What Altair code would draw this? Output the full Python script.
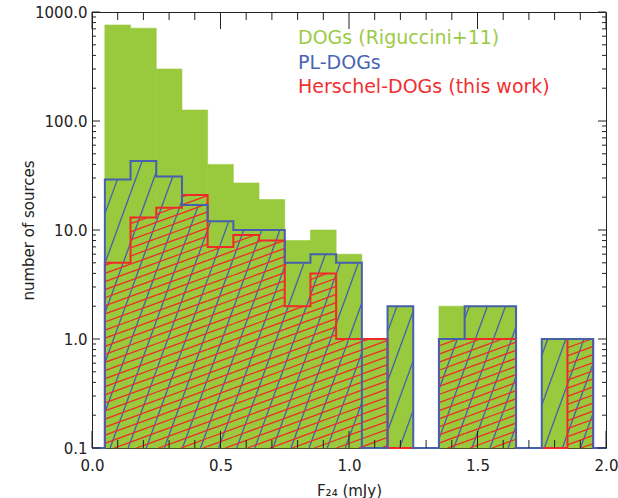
import math
import altair as alt
import pandas as pd
import numpy as np

# ---------------- data ----------------
bin_centers = [0.1, 0.2, 0.3, 0.4, 0.5, 0.6, 0.7, 0.8, 0.9, 1.0,
               1.1, 1.2, 1.3, 1.4, 1.5, 1.6, 1.7, 1.8, 1.9]
bin_width = 0.1
dogs_counts = [760, 710, 300, 126, 40, 27, 19, 8, 10, 6,
               1, 2, 0, 2, 2, 2, 0, 1, 1]
pl_counts = [29, 43, 31, 17, 12, 10, 10, 5, 6, 5,
             0, 2, 0, 1, 2, 2, 0, 1, 1]
her_counts = [5, 13, 16, 21, 7, 9, 8, 2, 4, 1,
              1, 0, 0, 1, 1, 1, 0, 0, 1]

legend_labels = ["DOGs (Riguccini+11)", "PL-DOGs", "Herschel-DOGs (this work)"]
legend_colors = ["#9bcb45", "#4a64b4", "#f03030"]

x_major = [0.0, 0.5, 1.0, 1.5, 2.0]
x_minor = [0.1, 0.2, 0.3, 0.4, 0.6, 0.7, 0.8, 0.9, 1.1, 1.2, 1.3, 1.4,
           1.6, 1.7, 1.8, 1.9]
y_major = [0.1, 1.0, 10.0, 100.0, 1000.0]
y_minor = [m * d for d in (0.1, 1.0, 10.0, 100.0) for m in range(2, 10)]

# ---------------- styling ----------------
W, H = 514, 436
XMIN, XMAX = 0.0, 2.0
YMIN, YMAX = 0.1, 1000.0
GREEN = "#99c93c"
BLUE = "#4660ae"
RED = "#f02a2a"
FONT = "DejaVu Sans"
TXT = "#222222"

px_per_x = W / (XMAX - XMIN)
px_per_dec = H / (math.log10(YMAX) - math.log10(YMIN))

xs = alt.Scale(domain=[XMIN, XMAX], nice=False, zero=False)
ys = alt.Scale(type="log", domain=[YMIN, YMAX], nice=False)
XAX = alt.Axis(values=x_major, format=".1f", grid=False, ticks=False,
               domain=False, labelPadding=10, labelFlush=False,
               labelOverlap=False, titlePadding=10)
YAX = alt.Axis(values=y_major, format=".1f", grid=False, ticks=False,
               domain=False, labelPadding=5, labelFlush=False,
               labelOverlap=False, titlePadding=-2)
XT = "F₂₄ (mJy)"
YT = "number of sources"


def X(field):
    return alt.X(field, scale=xs, axis=XAX, title=XT)


def Y(field):
    return alt.Y(field, scale=ys, axis=YAX, title=YT)


lo = [c - bin_width / 2 for c in bin_centers]
hi = [c + bin_width / 2 for c in bin_centers]


def hatch(counts, angle_deg, spacing):
    """Line-fill segments inside each bar, straight in screen space."""
    a = math.radians(angle_deg)
    ux, uy = math.cos(a), math.sin(a)
    nx, ny = -math.sin(a), math.cos(a)
    rows = []
    for l, h, c in zip(lo, hi, counts):
        if c <= 0:
            continue
        X0, X1 = (l - XMIN) * px_per_x, (h - XMIN) * px_per_x
        Y0, Y1 = 0.0, (math.log10(c) - math.log10(YMIN)) * px_per_dec
        proj = [nx * xx + ny * yy for xx in (X0, X1) for yy in (Y0, Y1)]
        for k in range(math.ceil(min(proj) / spacing), math.floor(max(proj) / spacing) + 1):
            p = k * spacing
            px0, py0 = p * nx, p * ny
            t1, t2 = (X0 - px0) / ux, (X1 - px0) / ux
            t3, t4 = (Y0 - py0) / uy, (Y1 - py0) / uy
            tlo = max(min(t1, t2), min(t3, t4))
            thi = min(max(t1, t2), max(t3, t4))
            if thi - tlo < 0.5:
                continue
            xa, ya = px0 + tlo * ux, py0 + tlo * uy
            xb, yb = px0 + thi * ux, py0 + thi * uy
            rows.append({
                "x": XMIN + xa / px_per_x,
                "x2": XMIN + xb / px_per_x,
                "y": 10 ** (math.log10(YMIN) + ya / px_per_dec),
                "y2": 10 ** (math.log10(YMIN) + yb / px_per_dec),
            })
    return pd.DataFrame(rows)


def outline(counts):
    pts = [(XMIN, YMIN), (lo[0], YMIN)]
    for l, h, c in zip(lo, hi, counts):
        v = c if c > 0 else YMIN
        pts.append((l, v))
        pts.append((h, v))
    pts.append((hi[-1], YMIN))
    pts.append((XMAX, YMIN))
    return pd.DataFrame({"x": [p[0] for p in pts], "y": [p[1] for p in pts],
                         "o": list(range(len(pts)))})


# ---------------- green filled bars ----------------
green_df = pd.DataFrame({"lo": lo, "hi": hi, "n": dogs_counts})
green_df = green_df[green_df["n"] > 0]
green = alt.Chart(green_df).mark_rect(color=GREEN, stroke=GREEN, strokeWidth=0.6).encode(
    x=X("lo:Q"), x2="hi:Q", y=Y("n:Q"), y2=alt.datum(YMIN),
)

# ---------------- hatching ----------------
blue_h = alt.Chart(hatch(pl_counts, 70, 17.0)).mark_rule(
    color=BLUE, strokeWidth=1.3).encode(x=X("x:Q"), x2="x2:Q", y=Y("y:Q"), y2="y2:Q")
red_h = alt.Chart(hatch(her_counts, 20, 7.6)).mark_rule(
    color=RED, strokeWidth=1.3).encode(x=X("x:Q"), x2="x2:Q", y=Y("y:Q"), y2="y2:Q")


# ---------------- outlines ----------------
def outline_layer(counts, color):
    return alt.Chart(outline(counts)).mark_line(
        color=color, strokeWidth=2, clip=False, strokeJoin="miter").encode(
        x=X("x:Q"), y=Y("y:Q"), order="o:Q")


red_o = outline_layer(her_counts, RED)
blue_o = outline_layer(pl_counts, BLUE)


# ---------------- inward ticks ----------------
def xticks(vals, length):
    d = pd.DataFrame({"v": vals})
    bot = alt.Chart(d).mark_rule(color=TXT, strokeWidth=1).encode(
        x=X("v:Q"), y=alt.value(H), y2=alt.value(H - length))
    top = alt.Chart(d).mark_rule(color=TXT, strokeWidth=1).encode(
        x=X("v:Q"), y=alt.value(0), y2=alt.value(length))
    return [bot, top]


def yticks(vals, length):
    d = pd.DataFrame({"v": vals})
    left = alt.Chart(d).mark_rule(color=TXT, strokeWidth=1).encode(
        y=Y("v:Q"), x=alt.value(0), x2=alt.value(length))
    right = alt.Chart(d).mark_rule(color=TXT, strokeWidth=1).encode(
        y=Y("v:Q"), x=alt.value(W), x2=alt.value(W - length))
    return [left, right]


tick_layers = xticks(x_major, 17) + xticks(x_minor, 8) + yticks(y_major, 8) + yticks(y_minor, 4)

# ---------------- legend text ----------------
leg_layers = []
for i, (lab, col) in enumerate(zip(legend_labels, legend_colors)):
    leg_layers.append(
        alt.Chart(pd.DataFrame({"t": [lab]})).mark_text(
            align="left", baseline="middle", font=FONT, fontSize=19, color=col
        ).encode(text="t:N", x=alt.value(206), y=alt.value(26 + 24.5 * i))
    )

chart = alt.layer(green, blue_h, red_h, red_o, blue_o, *tick_layers, *leg_layers).properties(
    width=W, height=H,
    autosize=alt.AutoSizeParams(type="none"),
    padding={"left": 92, "top": 12, "right": 12, "bottom": 50},
    background="white",
).configure_view(
    stroke=TXT, strokeWidth=1
).configure_axis(
    labelFont=FONT, labelFontSize=15, labelColor=TXT,
    titleFont=FONT, titleFontSize=15, titleColor=TXT, titleFontWeight="normal",
)

chart.save("out.html", embed_options={"renderer": "svg", "actions": False})
